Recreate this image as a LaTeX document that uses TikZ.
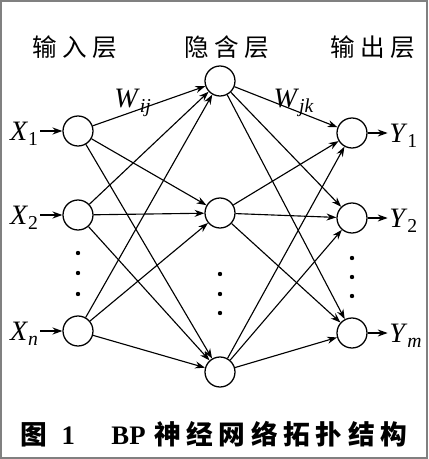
\documentclass[tikz,border=0pt]{standalone}
\usepackage{fontspec}
\setmainfont{Liberation Serif}
\newfontfamily\cjk{Noto Sans CJK SC}
\usetikzlibrary{arrows.meta,positioning}
\tikzset{>={Stealth[length=7pt,width=5pt]},neuron/.style={circle,draw,line width=.9pt,minimum size=.75cm,inner sep=0pt},
link/.style={->,line width=.8pt},
layer/.style={font=\cjk\fontsize{17.5}{20}\selectfont},
var/.style={font=\fontsize{20}{22}\selectfont,inner sep=1pt}}
\newcommand\lbl[2]{\textit{#1}\textsubscript{#2}}
\newcommand\cgap{\hspace{4pt}}

\begin{document}
\begin{tikzpicture}[x=.025cm,y=-.025cm]
\useasboundingbox (0,0) rectangle (428,459);
\draw[gray,line width=1.2pt] (1,1) rectangle (427,458);
% noms des couches
\node[layer] (tin) at (75,47) {输\cgap 入\cgap 层};
\node[layer] (thid) at (227,47) {隐\cgap 含\cgap 层};
\node[layer] (tout) at (373,47) {输\cgap 出\cgap 层};
% neurones
\foreach \i/\y in {1/131,2/215,3/331} \node[neuron] (in\i) at (78,\y) {};
\foreach \i/\y in {1/81,2/213,3/372} \node[neuron] (hid\i) at (220,\y) {};
\foreach \i/\y in {1/133,2/218,3/333} \node[neuron] (out\i) at (352,\y) {};
\foreach \y in {253,273,294} \fill (78,\y) circle(2.2);
\foreach \y in {274,294,313} \fill (220,\y) circle(2.2);
\foreach \y in {258,277,296} \fill (352,\y) circle(2.2);
% entrees et sorties
\foreach \i/\s in {1/1,2/2,3/\textit{n}}{
\node[var,left=.55cm of in\i,yshift=-2pt] (x\i) {\lbl{X}{\s}};
\draw[link] (x\i.east|-in\i) -- (in\i);}
\foreach \i/\s in {1/1,2/2,3/\textit{m}}{
\node[var,right=.5cm of out\i,yshift=-2pt] (y\i) {\lbl{Y}{\s}};
\draw[link] (out\i) -- (y\i.west|-out\i);}
% connexions
\foreach \i in {1,2,3}{
\foreach \j in {1,2,3}{
\draw[link] (in\i) -- (hid\j);
\draw[link] (hid\i) -- (out\j);}}
\node[var] (wij) at (133,103) {\lbl{W}{\textit{ij}}};
\node[var] (wjk) at (294,103) {\lbl{W}{\textit{jk}}};
% legende
\node[font=\fontsize{19}{22}\selectfont] (cap) at (214,434) {{\cjk\bfseries 图}\hspace{10pt}\textbf{1}\hspace{26pt}\textbf{BP}\hspace{6pt}{\cjk\bfseries 神\cgap 经\cgap 网\cgap 络\cgap 拓\cgap 扑\cgap 结\cgap 构}};
\end{tikzpicture}
\end{document}
